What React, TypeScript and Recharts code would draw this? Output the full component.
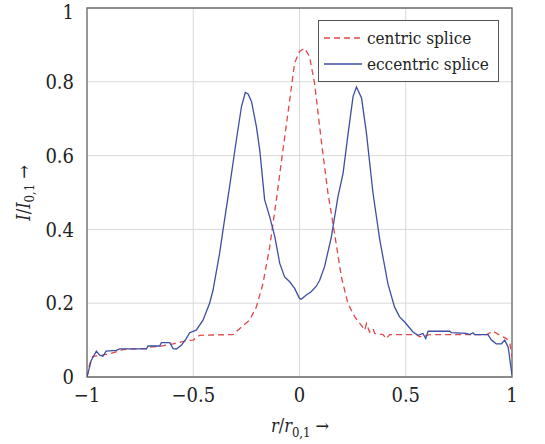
import React from 'react';
import { LineChart, Line, XAxis, YAxis, CartesianGrid, ReferenceArea } from 'recharts';

const rCentric = [-1, -0.987, -0.972, -0.94, -0.893, -0.83, -0.752, -0.72, -0.705, -0.658, -0.595, -0.533, -0.501, -0.47, -0.313, -0.282, -0.235, -0.203, -0.172, -0.14, -0.109, -0.078, -0.046, -0.023, 0, 0.024, 0.047, 0.071, 0.102, 0.134, 0.165, 0.197, 0.228, 0.26, 0.291, 0.307, 0.315, 0.33, 0.346, 0.354, 0.393, 0.409, 0.424, 0.55, 0.565, 0.613, 0.88, 0.911, 0.942, 0.974, 0.99, 1];
const iCentric = [0, 0.036, 0.056, 0.058, 0.063, 0.074, 0.077, 0.077, 0.081, 0.083, 0.09, 0.098, 0.1, 0.113, 0.115, 0.131, 0.154, 0.19, 0.253, 0.353, 0.48, 0.615, 0.751, 0.851, 0.882, 0.891, 0.869, 0.796, 0.643, 0.498, 0.389, 0.271, 0.199, 0.163, 0.14, 0.127, 0.145, 0.122, 0.131, 0.118, 0.115, 0.104, 0.115, 0.115, 0.109, 0.115, 0.115, 0.124, 0.113, 0.104, 0.09, 0.054];

const rEccentric = [-1, -0.98, -0.956, -0.94, -0.925, -0.91, -0.862, -0.846, -0.72, -0.713, -0.658, -0.65, -0.61, -0.595, -0.58, -0.556, -0.533, -0.517, -0.486, -0.454, -0.423, -0.407, -0.376, -0.36, -0.329, -0.297, -0.273, -0.255, -0.242, -0.226, -0.203, -0.187, -0.164, -0.14, -0.116, -0.093, -0.07, -0.046, -0.023, 0, 0.008, 0.032, 0.055, 0.079, 0.095, 0.118, 0.15, 0.181, 0.205, 0.229, 0.252, 0.268, 0.292, 0.315, 0.346, 0.378, 0.416, 0.447, 0.471, 0.495, 0.534, 0.558, 0.581, 0.594, 0.605, 0.707, 0.715, 0.785, 0.801, 0.816, 0.824, 0.887, 0.903, 0.926, 0.95, 0.966, 0.982, 1];
const iEccentric = [0, 0.045, 0.07, 0.059, 0.056, 0.07, 0.072, 0.076, 0.076, 0.084, 0.084, 0.093, 0.093, 0.077, 0.076, 0.086, 0.104, 0.12, 0.127, 0.154, 0.2, 0.235, 0.335, 0.398, 0.516, 0.643, 0.733, 0.771, 0.767, 0.747, 0.679, 0.615, 0.48, 0.434, 0.38, 0.308, 0.271, 0.258, 0.24, 0.213, 0.211, 0.222, 0.231, 0.246, 0.262, 0.299, 0.38, 0.489, 0.552, 0.661, 0.76, 0.786, 0.756, 0.661, 0.498, 0.371, 0.253, 0.19, 0.163, 0.149, 0.122, 0.113, 0.118, 0.104, 0.124, 0.124, 0.12, 0.118, 0.115, 0.12, 0.115, 0.115, 0.1, 0.09, 0.09, 0.1, 0.081, 0.005];

const xTicks = [-1, -0.5, 0, 0.5, 1];
const yTicks = [0, 0.2, 0.4, 0.6, 0.8, 1];
const seriesNames = ['centric splice', 'eccentric splice'];

const centricData = rCentric.map((r, k) => ({ r, i: iCentric[k] }));
const eccentricData = rEccentric.map((r, k) => ({ r, i: iEccentric[k] }));

const FONT = 'DejaVu Serif Condensed, DejaVu Serif';
const RED = '#e2474a';
const BLUE = '#3d4ea3';

const fmt = (v: number) => (v < 0 ? '\u2212' + Math.abs(v) : String(v));

const LegendBox = () => (
  <div
    style={{
      position: 'absolute',
      left: 318,
      top: 20,
      border: '1.3px solid #555',
      background: '#fff',
      width: 181,
      height: 62,
      boxSizing: 'border-box',
      fontFamily: FONT,
      fontSize: 17,
      color: '#222',
      paddingTop: 4,
    }}
  >
    {seriesNames.map((name, k) => (
      <div key={name} style={{ display: 'flex', alignItems: 'center', height: 26, marginLeft: 5, whiteSpace: 'nowrap' }}>
        <svg width={38} height={10} style={{ marginRight: 5, flex: 'none' }}>
          <line x1={0} y1={5} x2={38} y2={5} stroke={k === 0 ? RED : BLUE} strokeWidth={1.3} strokeDasharray={k === 0 ? '6 4' : undefined} />
        </svg>
        <span>{name}</span>
      </div>
    ))}
  </div>
);

const YLabel = () => (
  <text x={25} y={193} transform="rotate(-90, 25, 193)" textAnchor="middle" dominantBaseline="middle" fontFamily={FONT} fontSize={18} fill="#222">
    <tspan fontStyle="italic">I</tspan>
    <tspan>/</tspan>
    <tspan fontStyle="italic">I</tspan>
    <tspan fontSize={13} dy={5}>0,1</tspan>
    <tspan dy={-5} dx={5}>{'\u2192'}</tspan>
  </text>
);

const XLabel = () => (
  <text x={300} y={432} textAnchor="middle" fontFamily={FONT} fontSize={18} fill="#222">
    <tspan fontStyle="italic">r</tspan>
    <tspan>/</tspan>
    <tspan fontStyle="italic">r</tspan>
    <tspan fontSize={13} dy={5}>0,1</tspan>
    <tspan dy={-5} dx={5}>{'\u2192'}</tspan>
  </text>
);

export default function App() {
  return (
    <div style={{ position: 'absolute', left: 0, top: 0, width: 545, height: 444, background: '#fff' }}>
      <LineChart width={545} height={444} margin={{ top: 8, right: 33, left: 0, bottom: 0 }}>
        <CartesianGrid stroke="#d9d9d9" strokeWidth={1} horizontalValues={yTicks} verticalValues={xTicks} />
        <XAxis type="number" dataKey="r" domain={[-1, 1]} ticks={xTicks} tickFormatter={fmt} axisLine={false} tickLine={false} tickMargin={5} height={67} allowDataOverflow
          tick={{ fontFamily: FONT, fontSize: 20, fill: '#222' }} label={{ content: () => <XLabel /> }} />
        <YAxis type="number" domain={[0, 1]} ticks={yTicks} tickFormatter={fmt} axisLine={false} tickLine={false} tickMargin={7} width={87} allowDataOverflow
          tick={{ fontFamily: FONT, fontSize: 20, fill: '#222' }} label={{ content: () => <YLabel /> }} />
        <Line data={centricData} dataKey="i" name={seriesNames[0]} type="linear" stroke={RED} strokeWidth={1.3} strokeDasharray="6 4" dot={false} isAnimationActive={false} />
        <Line data={eccentricData} dataKey="i" name={seriesNames[1]} type="linear" stroke={BLUE} strokeWidth={1.3} dot={false} isAnimationActive={false} />
        <ReferenceArea x1={-1} x2={1} y1={0} y2={1} fill="none" stroke="#6b6b6b" strokeWidth={1.3} />
      </LineChart>
      <LegendBox />
    </div>
  );
}
